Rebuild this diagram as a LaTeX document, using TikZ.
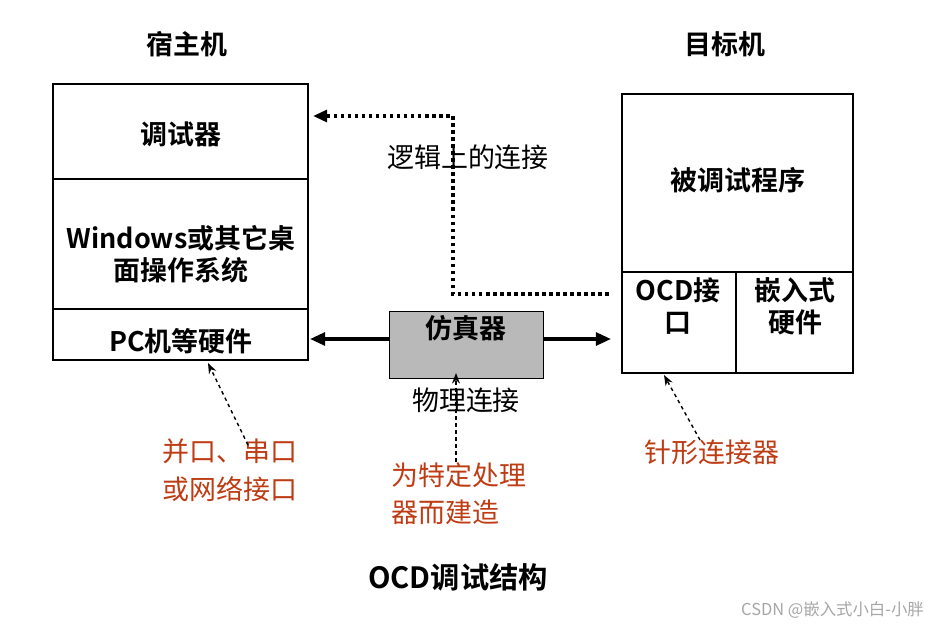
\documentclass[tikz,border=0pt]{standalone}
\usepackage{fontspec}
\newfontfamily\cjk{Noto Sans CJK SC}[BoldFont={Noto Sans CJK SC Bold}]
\setmainfont{Liberation Serif}
\usetikzlibrary{arrows.meta}
\definecolor{redtxt}{RGB}{190,60,20}
\begin{document}
\begin{tikzpicture}[x=0.03cm,y=-0.03cm,
  lbl/.style={font=\fontsize{23}{26}\selectfont\bfseries\cjk,inner sep=0pt},
  nlbl/.style={font=\fontsize{23}{26}\selectfont\cjk,inner sep=0pt},
  rlbl/.style={font=\fontsize{23}{26}\selectfont\cjk,text=redtxt,inner sep=0pt,align=left},
  box/.style={draw,line width=1pt},
  thick arrow/.style={line width=3pt,-{Triangle[length=13pt,width=11pt]}},
  dash arrow/.style={line width=1.2pt,dashed,-{Stealth[length=9pt]}}]
\useasboundingbox (0,0) rectangle (937,631);
% left box
\draw[box] (53,84) rectangle (308,360);
\draw[box] (53,179) -- (308,179);
\draw[box] (53,309) -- (308,309);
\node[lbl] (host) at (187,44) {宿主机};
\node[lbl] (dbg) at (181,134) {调试器};
\node[lbl,align=center] (os) at (181,254) {Windows或其它桌\\[1pt]面操作系统};
\node[lbl] (pc) at (181,341) {PC机等硬件};
\coordinate (pcR) at (310,339);
% right box
\draw[box] (622,94) rectangle (853,373);
\draw[box] (622,272) -- (853,272);
\draw[box] (736,272) -- (736,373);
\node[lbl] (tgt) at (725,44) {目标机};
\node[lbl] (prog) at (738,180) {被调试程序};
\node[lbl,align=center] (ocd) at (678,306) {OCD接\\[1pt]口};
\node[lbl,align=center] (emb) at (795,306) {嵌入式\\[1pt]硬件};
% emulator
\node[box,fill=gray!55,minimum width=154*0.03cm,minimum height=67*0.03cm,anchor=north west] (emu) at (389,311) {};
\node[lbl] at (466,328) {仿真器};
\coordinate (ocdL) at (611,339);
\draw[thick arrow] (389,339) -- (pcR);
\draw[thick arrow] (543,339) -- (ocdL);
% dotted logical connection
\coordinate (dotS) at (453,294);
\coordinate (dotT) at (453,116);
\coordinate (dbgR) at (313,116);
\draw[line width=3pt,dash pattern=on 3pt off 3pt,-{Triangle[length=12pt,width=10pt]}] (609,294) -- (dotS) -- (dotT) -- (dbgR);
\node[nlbl] at (468,157) {逻辑上的连接};
\node[nlbl] at (466,400) {物理连接};
% dashed annotations
\node[rlbl] (r1) at (230,470) {并口、串口\\[6pt]或网络接口};
\node[rlbl,anchor=north west] (r2) at (391,462) {为特定处理\\[6pt]器而建造};
\node[rlbl] (r3) at (712,452) {针形连接器};
\draw[dash arrow] (248,445) -- (208,363);
\draw[dash arrow] (456,462) -- (456,373);
\draw[dash arrow] (700,440) -- (664,375);
\node[lbl,font=\fontsize{25}{28}\selectfont\bfseries\cjk] (title) at (458,577) {OCD调试结构};
\node[font=\fontsize{14}{16}\selectfont\cjk,text=gray!70,anchor=east] at (928,610) {CSDN @嵌入式小白-小胖};
\end{tikzpicture}
\end{document}
